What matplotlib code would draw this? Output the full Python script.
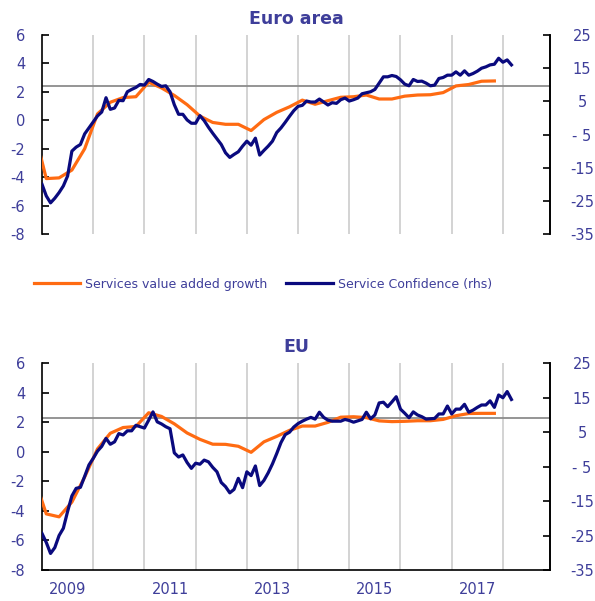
import numpy as np
import matplotlib.pyplot as plt


# ============================================================
# Data
# ============================================================

START_YEAR = 2009

# Service confidence (rhs), monthly, Jan 2009 - Mar 2018
EA_CONF = [
    -20.0, -23.5, -25.6, -24.2, -22.5, -20.5, -17.5, -10.0, -8.8, -8.0,
    -4.8, -3.0, -1.2, 0.6, 1.8, 6.1, 2.6, 3.0, 5.3, 5.2,
    7.9, 8.6, 9.2, 10.1, 9.9, 11.6, 11.0, 10.2, 9.5, 9.7,
    7.9, 4.0, 1.1, 1.1, -0.6, -1.6, -1.6, 0.7, -0.8, -2.8,
    -4.6, -6.3, -8.0, -10.5, -11.9, -11.0, -10.2, -8.5, -7.0, -8.2,
    -6.1, -11.2, -9.8, -8.5, -7.0, -4.4, -3.0, -1.3, 0.5, 2.2,
    3.5, 3.8, 5.1, 4.8, 4.8, 5.7, 4.8, 3.9, 4.6, 4.4,
    5.5, 6.0, 5.1, 5.5, 6.0, 7.3, 7.6, 7.9, 8.6, 10.5,
    12.4, 12.4, 12.8, 12.5, 11.5, 10.2, 9.7, 11.6, 11.0, 11.1,
    10.5, 9.7, 9.9, 11.9, 12.2, 12.9, 12.9, 13.9, 12.9, 14.2,
    12.9, 13.4, 14.1, 15.0, 15.4, 16.0, 16.2, 18.0, 16.8, 17.5,
    16.0,
]

EU_CONF = [
    -24.4, -27.0, -30.2, -28.5, -25.0, -22.9, -18.0, -13.5, -11.3, -11.0,
    -7.8, -4.5, -2.6, -0.5, 0.9, 3.2, 1.5, 2.2, 4.6, 4.2,
    5.4, 5.4, 7.0, 6.6, 6.2, 8.5, 10.9, 8.0, 7.4, 6.6,
    6.0, -1.0, -2.2, -1.6, -3.8, -5.5, -4.0, -4.3, -3.1, -3.6,
    -5.2, -6.5, -9.6, -10.8, -12.6, -11.6, -8.4, -11.1, -6.5, -7.6,
    -4.8, -10.5, -9.0, -6.8, -4.2, -1.2, 2.0, 4.3, 5.0, 6.5,
    7.5, 8.2, 8.8, 9.3, 8.8, 10.8, 9.3, 8.5, 8.2, 8.2,
    8.2, 8.7, 8.4, 7.9, 8.3, 8.7, 10.8, 8.9, 10.0, 13.5,
    13.7, 12.4, 13.8, 15.3, 11.7, 10.5, 9.2, 10.9, 10.0, 9.5,
    8.8, 8.9, 9.0, 10.3, 10.3, 12.6, 10.3, 11.7, 11.7, 13.1,
    10.8, 11.4, 12.2, 12.9, 12.9, 14.1, 12.2, 15.8, 15.0, 16.8,
    14.5,
]

# Services value added growth (lhs), quarterly, Q4 2008 - Q4 2017
EA_VA = [
    -0.5, -4.1, -4.05, -3.5, -2.0, 0.45, 1.27, 1.6, 1.66, 2.68,
    2.28, 1.75, 1.1, 0.3, -0.15, -0.28, -0.28, -0.72, 0.05, 0.56,
    0.95, 1.42, 1.13, 1.38, 1.62, 1.66, 1.78, 1.5, 1.5, 1.7,
    1.78, 1.8, 1.95, 2.42, 2.52, 2.75, 2.77,
]

EU_VA = [
    -1.6, -4.2, -4.4, -3.4, -1.7, 0.2, 1.26, 1.65, 1.72, 2.65,
    2.4, 1.9, 1.28, 0.85, 0.52, 0.51, 0.38, -0.03, 0.68, 1.05,
    1.46, 1.75, 1.75, 2.0, 2.35, 2.38, 2.32, 2.1, 2.05, 2.07,
    2.11, 2.11, 2.2, 2.45, 2.6, 2.61, 2.61,
]

# long-term average of confidence (rhs)
EA_AVG = 9.5
EU_AVG = 9.2

PANELS = [
    ("Euro area", EA_VA, EA_CONF, EA_AVG),
    ("EU", EU_VA, EU_CONF, EU_AVG),
]

LEFT_TICKS = [-8, -6, -4, -2, 0, 2, 4, 6]
RIGHT_TICKS = [-35, -25, -15, -5, 5, 15, 25]
RIGHT_TICK_LABELS = ["-35", "-25", "-15", "- 5", "5", "15", "25"]
YEAR_LABELS = [2009, 2011, 2013, 2015, 2017]


# ============================================================
# Style
# ============================================================

ORANGE = "#FF6B12"
NAVY = "#0A0A7E"
TEXT = "#3E3E9A"
GRID = "#C8C8C8"
HLINE = "#8C8C8C"

LEFT_LIM = (-8, 6)
RIGHT_LIM = (-35, 25)
X_LIM = (2009.0, 2018.92)

plt.rcParams.update({
    "font.family": "DejaVu Sans",
    "font.size": 10,
})


def month_x(n, first_month):
    return START_YEAR + (np.arange(n) * 1.0 + first_month) / 12.0


def quarter_x(n):
    # mid-quarter, starting with Q4 2008 (Nov 2008)
    return START_YEAR + (np.arange(n) * 3.0 - 2.0) / 12.0


def right_to_left(v):
    return LEFT_LIM[0] + (v - RIGHT_LIM[0]) * (LEFT_LIM[1] - LEFT_LIM[0]) / (RIGHT_LIM[1] - RIGHT_LIM[0])


# ============================================================
# Plot
# ============================================================

fig = plt.figure(figsize=(5.95, 6.01), dpi=100)

axes_pos = [
    [0.0706, 0.6106, 0.8538, 0.3311],
    [0.0706, 0.0516, 0.8538, 0.3439],
]

for i, (title, va, conf, avg) in enumerate(PANELS):
    ax = fig.add_axes(axes_pos[i])
    axr = ax.twinx()

    for yr in range(2010, 2019):
        ax.axvline(yr, color=GRID, linewidth=1.1, zorder=0)
    ax.axhline(right_to_left(avg), color=HLINE, linewidth=1.3, zorder=1)

    ax.plot(quarter_x(len(va)), va, color=ORANGE, linewidth=2.3,
            solid_joinstyle="round", zorder=3,
            label="Services value added growth")
    axr.plot(month_x(len(conf), 0), conf, color=NAVY, linewidth=2.3,
             solid_joinstyle="round", zorder=3,
             label="Service Confidence (rhs)")

    ax.set_xlim(*X_LIM)
    ax.set_ylim(*LEFT_LIM)
    axr.set_ylim(*RIGHT_LIM)

    ax.set_yticks(LEFT_TICKS)
    ax.set_yticklabels([str(t) for t in LEFT_TICKS])
    axr.set_yticks(RIGHT_TICKS)
    axr.set_yticklabels(RIGHT_TICK_LABELS)

    ax.tick_params(axis="y", direction="in", length=5, width=1.2,
                   pad=12, labelsize=10.5, labelcolor=TEXT, color="black")
    axr.tick_params(axis="y", direction="in", length=5, width=1.2,
                    pad=23, labelsize=10.5, labelcolor=TEXT, color="black")
    for lbl in axr.get_yticklabels():
        lbl.set_horizontalalignment("center")

    for a in (ax, axr):
        a.spines["top"].set_visible(False)
        a.spines["left"].set_linewidth(1.2)
        a.spines["right"].set_linewidth(1.2)
    axr.spines["left"].set_visible(False)
    axr.spines["bottom"].set_visible(False)

    if i == 0:
        ax.spines["bottom"].set_visible(False)
        ax.set_xticks([])
    else:
        ax.spines["bottom"].set_linewidth(1.2)
        ax.set_xticks([y + 0.5 for y in YEAR_LABELS])
        ax.set_xticklabels([str(y) for y in YEAR_LABELS])
        ax.tick_params(axis="x", length=0, pad=9, labelsize=10.5,
                       labelcolor=TEXT)

    ax.set_title(title, fontsize=12.5, fontweight="bold", color=TEXT, pad=8)

    if i == 0:
        h1, l1 = ax.get_legend_handles_labels()
        h2, l2 = axr.get_legend_handles_labels()
        fig.legend(
            h1 + h2, l1 + l2,
            loc="center",
            bbox_to_anchor=(0.442, 0.527),
            ncol=2,
            frameon=False,
            fontsize=9,
            labelcolor=TEXT,
            handlelength=3.7,
            handletextpad=0.4,
            columnspacing=1.5,
        )

fig.savefig("out.png", dpi=100)
plt.close(fig)
